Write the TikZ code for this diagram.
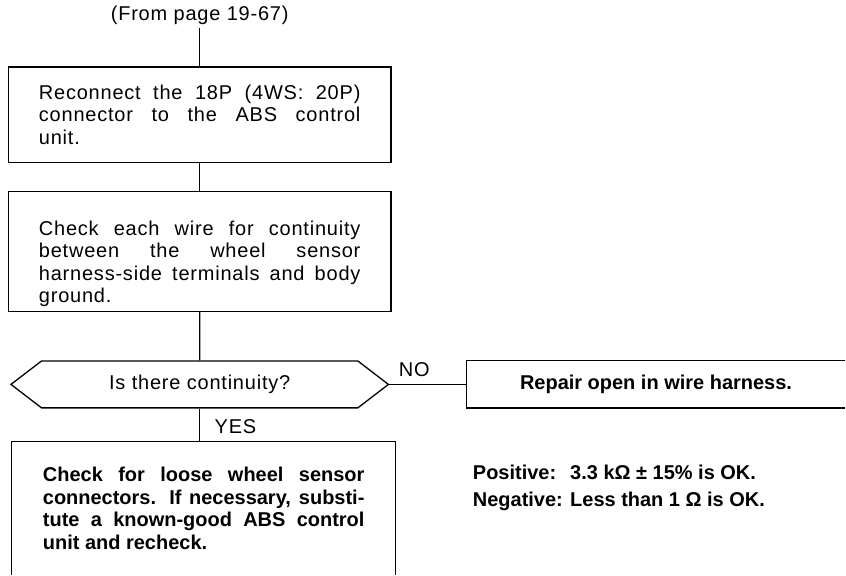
\documentclass[tikz,border=0pt]{standalone}
\usepackage{fontspec}
\setmainfont{Liberation Sans}
\newfontfamily\trackfont{Liberation Sans}[LetterSpace=4]
\usetikzlibrary{shapes.symbols}

\begin{document}
\begin{tikzpicture}[x=1pt,y=-1pt,line width=1.3pt,every node/.style={font=\trackfont\fontsize{20}{22.5}\selectfont},boldtext/.style={font=\bfseries\fontsize{20}{22.5}\selectfont},stepbox/.style={draw,text width=322pt,inner xsep=30.5pt,inner ysep=0pt,align=justify},query/.style={draw,signal,signal to=west and east,signal pointer angle=75,minimum width=378pt,minimum height=47pt,inner sep=0pt}]
\fill[white] (0,0) rectangle (846,575);
\node (from) at (200,15) {(From page 19-67)};
\node[stepbox,minimum height=96pt] (reconnect) at (200,115) {Reconnect the 18P (4WS: 20P)\linebreak connector to the ABS control\linebreak unit.};
\node[stepbox,minimum height=120pt] (wirecheck) at (200,252) {\rule{0pt}{39pt}Check each wire for continuity\linebreak between the wheel sensor\linebreak harness-side terminals and body\linebreak ground.};
\node[query] (continuity) at (200,385) {Is there continuity?};
\node[stepbox,boldtext,draw=none,minimum height=132pt] (substitute) at (204,509) {Check for loose wheel sensor\linebreak connectors. If necessary, substi-\linebreak tute a known-good ABS control\linebreak unit and recheck.};
\node[boldtext,minimum width=378pt,minimum height=46pt,inner sep=0pt] (repair) at (657,385) {Repair open in wire harness.};
\node (no) at (415,370) {NO};
\node[anchor=west] (yes) at (211,427) {YES};
\node[boldtext,anchor=north west,inner sep=0pt] (limits) at (473,461) {\renewcommand\arraystretch{1.2}\begin{tabular}{@{}l@{ }l@{}}Positive: & 3.3 kΩ ± 15\% is OK.\\Negative: & Less than 1 Ω is OK.\end{tabular}};
% open sides of the cut boxes
\draw (substitute.south west) -- (substitute.north west) -- (substitute.north east) -- (substitute.south east);
\draw (repair.north east) -- (repair.north west) -- (repair.south west) -- (repair.south east);
\draw (from) -- (reconnect);
\draw (reconnect) -- (wirecheck);
\draw (wirecheck) -- (continuity);
\draw (continuity.south) -- (continuity.south |- substitute.north);
\draw (continuity.east) -- (repair.west);
\end{tikzpicture}
\end{document}
